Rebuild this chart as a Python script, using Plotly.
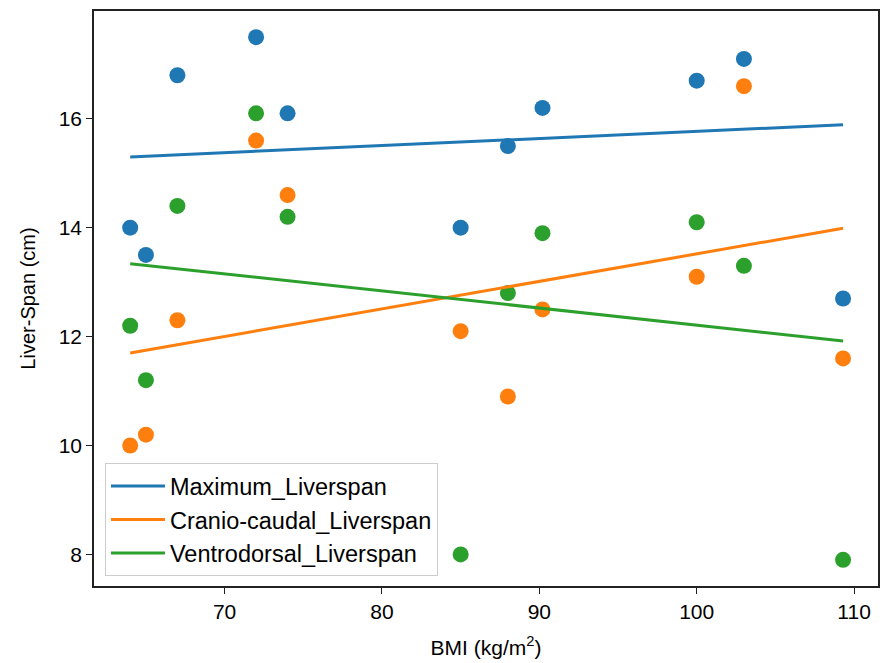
import plotly.graph_objects as go

# ---- data ----
bmi = [64, 65, 67, 72, 74, 85, 88, 90.2, 100, 103, 109.3]
maximum_liverspan = [14.0, 13.5, 16.8, 17.5, 16.1, 14.0, 15.5, 16.2, 16.7, 17.1, 12.7]
cranio_caudal_liverspan = [10.0, 10.2, 12.3, 15.6, 14.6, 12.1, 10.9, 12.5, 13.1, 16.6, 11.6]
ventrodorsal_liverspan = [12.2, 11.2, 14.4, 16.1, 14.2, 8.0, 12.8, 13.9, 14.1, 13.3, 7.9]

# trend lines (endpoints)
trend_x = [64, 109.3]
trend_maximum = [15.30, 15.89]
trend_cranio = [11.70, 13.99]
trend_ventro = [13.34, 11.92]

series_names = ["Maximum_Liverspan", "Cranio-caudal_Liverspan", "Ventrodorsal_Liverspan"]
colors = ["#1f77b4", "#ff7f0e", "#2ca02c"]

x_ticks = [70, 80, 90, 100, 110]
y_ticks = [8, 10, 12, 14, 16]

fig = go.Figure()

for ys, c in zip([maximum_liverspan, cranio_caudal_liverspan, ventrodorsal_liverspan], colors):
    fig.add_trace(go.Scatter(x=bmi, y=ys, mode="markers",
                             marker=dict(color=c, size=16, line=dict(width=0)),
                             showlegend=False, hoverinfo="skip"))

for ys, c, n in zip([trend_maximum, trend_cranio, trend_ventro], colors, series_names):
    fig.add_trace(go.Scatter(x=trend_x, y=ys, mode="lines", name=n,
                             line=dict(color=c, width=3)))

font_family = "Liberation Sans, Arial, sans-serif"

fig.update_layout(
    width=882, height=663,
    margin=dict(l=94, r=2, t=11, b=77),
    paper_bgcolor="white", plot_bgcolor="white",
    font=dict(family=font_family, size=20, color="black"),
    showlegend=True,
    legend=dict(x=0.014, y=0.017, xanchor="left", yanchor="bottom",
                bgcolor="rgba(255,255,255,0.85)", bordercolor="#cccccc", borderwidth=1,
                font=dict(size=23.5, family=font_family, color="black"),
                tracegroupgap=0, itemwidth=54),
    xaxis=dict(range=[61.7, 111.52], tickvals=x_ticks, ticktext=[str(v) for v in x_ticks],
               showgrid=False, zeroline=False, showline=True, linecolor="#222222", linewidth=1.5,
               mirror=True, ticks="outside", ticklen=6, tickwidth=1.3, tickcolor="#222222",
               tickfont=dict(size=21),
               title=dict(text="BMI (kg/m<sup>2</sup>)", font=dict(size=21), standoff=18)),
    yaxis=dict(range=[7.42, 17.98], tickvals=y_ticks, ticktext=[str(v) for v in y_ticks],
               showgrid=False, zeroline=False, showline=True, linecolor="#222222", linewidth=1.5,
               mirror=True, ticks="outside", ticklen=6, tickwidth=1.3, tickcolor="#222222",
               tickfont=dict(size=21),
               title=dict(text="Liver-Span (cm)", font=dict(size=20), standoff=18)),
)

fig.write_html("out.html",
               config={"displayModeBar": False},
               post_script="document.body.style.margin='0';document.body.style.overflow='hidden';")
